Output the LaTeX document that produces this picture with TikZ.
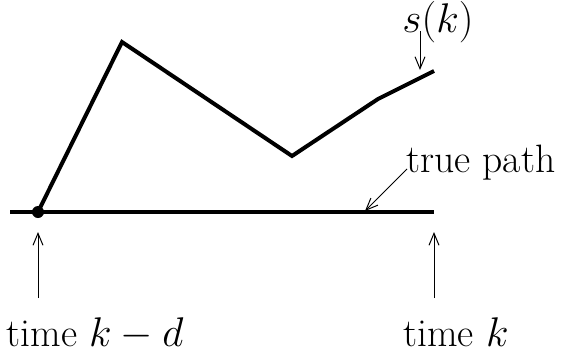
\documentclass[tikz,border=0pt]{standalone}
\usetikzlibrary{arrows.meta}
\begin{document}
\begin{tikzpicture}[x=0.5pt,y=-0.5pt,
  trackline/.style={line width=2pt,line join=miter},
  pointer/.style={line width=0.5pt,-{Straight Barb[length=6pt,width=5pt]}},
  labeltext/.style={font=\fontsize{19.8}{24}\selectfont,inner sep=0pt}]
\useasboundingbox (0,0) rectangle (561,354);
% estimated path s and the true path
\coordinate (left end) at (10,212);
\coordinate (right end) at (434,212);
\coordinate (start) at (38,212);
\coordinate (peak) at (122,42);
\coordinate (dip) at (292,156);
\coordinate (bend) at (378,99);
\coordinate (now) at (434,71);
\draw[trackline] (left end) -- (right end);
\draw[trackline] (start) -- (peak) -- (dip) -- (bend) -- (now);
\fill (start) circle (6);
% labels
\node[labeltext] (s label) at (438,22) {$s(k)$};
\coordinate (s tail) at (420,31);
\coordinate (s tip) at (420,70);
\draw[pointer] (s tail) -- (s tip);
\node[labeltext,anchor=base west] (true label) at (406,172) {true path};
\coordinate (true tail) at (407,169);
\coordinate (true tip) at (365,211);
\draw[pointer] (true tail) -- (true tip);
\node[labeltext,anchor=base] (past label) at (95,346) {time $k-d$};
\node[labeltext,anchor=base] (now label) at (456,346) {time $k$};
\coordinate (past tail) at (38,298);
\coordinate (past tip) at (38,232);
\coordinate (now tail) at (434,298);
\coordinate (now tip) at (434,232);
\draw[pointer] (past tail) -- (past tip);
\draw[pointer] (now tail) -- (now tip);
\end{tikzpicture}
\end{document}
